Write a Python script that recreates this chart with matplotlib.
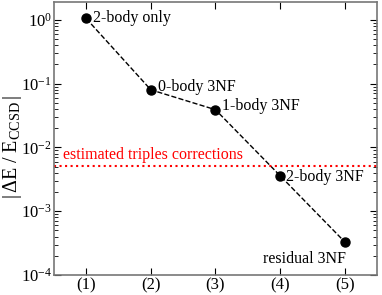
import matplotlib.pyplot as plt
import numpy as np

plt.rcParams['font.family'] = ['Liberation Serif', 'DejaVu Serif']
plt.rcParams['mathtext.fontset'] = 'custom'
plt.rcParams['mathtext.rm'] = 'Liberation Serif'
plt.rcParams['mathtext.it'] = 'Liberation Serif:italic'

steps = [1, 2, 3, 4, 5]
tick_labels = ['(1)', '(2)', '(3)', '(4)', '(5)']
rel_err = [1.05, 0.08, 0.039, 0.0036, 0.00033]
point_labels = ['2-body only', '0-body 3NF', '1-body 3NF', '2-body 3NF', 'residual 3NF']
triples = 0.0052

fig = plt.figure(figsize=(3.82, 2.95), dpi=100)
ax = fig.add_axes([0.141, 0.068, 0.846, 0.925])

ax.plot(steps, rel_err, 'k--', marker='o', ms=6.5, lw=1)
ax.axhline(triples, color='red', ls=':', lw=1.5)
ax.annotate('estimated triples corrections', (0.64, triples), xytext=(0, 1.5),
            textcoords='offset points', color='red', fontsize=11.5, va='bottom')

offsets = [(5, 0), (5, 2), (5, 3), (4, -1), (-59, -15)]
vas = ['center', 'center', 'center', 'center', 'baseline']
for x, y, lab, off, va in zip(steps, rel_err, point_labels, offsets, vas):
    ax.annotate(lab, (x, y), xytext=off, textcoords='offset points', fontsize=11.5, va=va)

ax.set_yscale('log')
ax.set_xlim(0.5, 5.5)
ax.set_ylim(1e-4, 1.9)
ax.set_xticks(steps)
ax.set_xticklabels(tick_labels)
ax.set_yticks([1e0, 1e-1, 1e-2, 1e-3, 1e-4])
ax.tick_params(which='both', direction='in', top=True, right=True, labelsize=12)
ax.tick_params(axis='x', pad=1.5)
ax.tick_params(axis='y', pad=1.5)
ax.tick_params(which='major', length=5)
ax.tick_params(which='minor', length=3)
for s in ax.spines.values():
    s.set_color('#777777')
    s.set_linewidth(1.2)
ax.set_ylabel(r'$|\,\mathrm{\Delta E\ /\ E_{CCSD}}\,|$', fontsize=14.5,
              rotation_mode='default', va='center', ha='center')
ax.yaxis.set_label_coords(-0.128, 0.47)

fig.savefig('out.png', dpi=100)
